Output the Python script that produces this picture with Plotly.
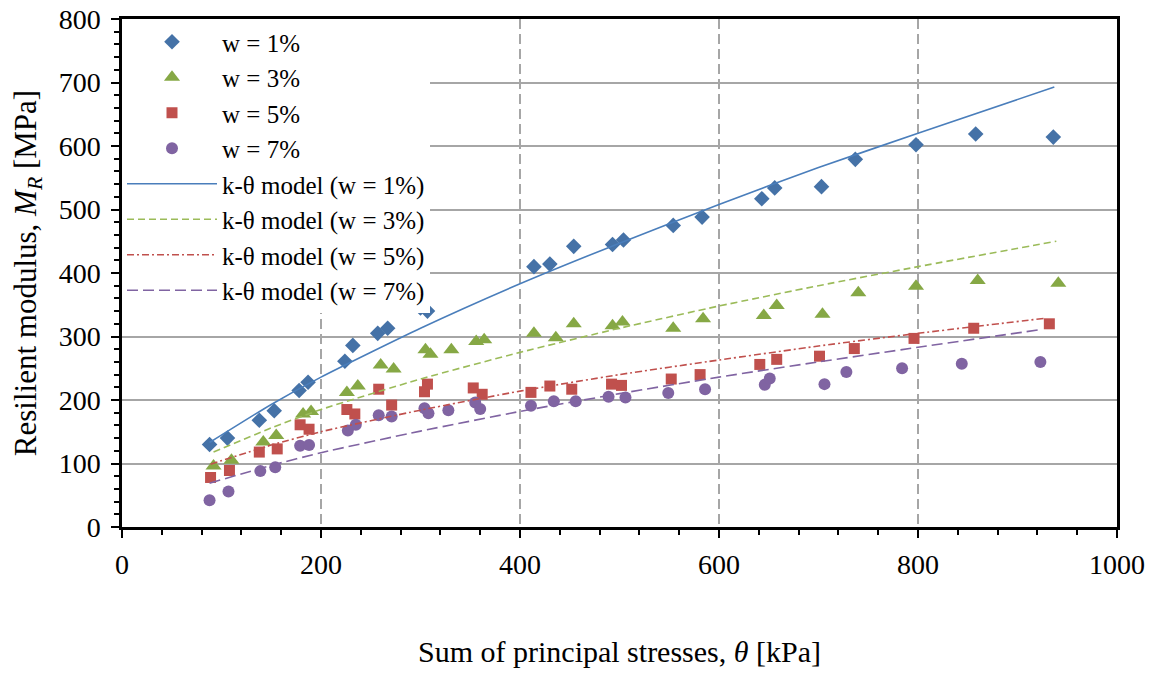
import plotly.graph_objects as go

theta_w1 = [88, 106, 138, 153, 178, 187, 224, 232, 257, 267, 300, 307, 414, 430, 454, 493, 504, 554, 583, 643, 656, 703, 737, 798, 858, 936]
mr_w1 = [130, 140, 168, 183, 215, 228, 261, 286, 305, 313, 345, 340, 410, 414, 442, 445, 452, 475, 488, 517, 534, 536, 579, 602, 619, 614]

theta_w3 = [92, 110, 142, 155, 182, 190, 226, 237, 260, 273, 305, 310, 331, 356, 364, 414, 436, 454, 493, 503, 554, 584, 645, 658, 704, 740, 798, 860, 941]
mr_w3 = [96, 105, 134, 144, 178, 182, 212, 222, 255, 249, 279, 272, 279, 292, 295, 305, 298, 320, 317, 323, 313, 328, 333, 349, 335, 369, 379, 388, 384]

theta_w5 = [89, 108, 138, 156, 179, 188, 226, 234, 258, 271, 304, 307, 353, 362, 411, 430, 452, 492, 502, 552, 581, 641, 658, 701, 736, 796, 856, 932]
mr_w5 = [78, 89, 118, 123, 161, 154, 185, 178, 217, 192, 213, 225, 219, 209, 212, 222, 217, 225, 223, 233, 240, 256, 264, 269, 281, 297, 313, 320]

theta_w7 = [88, 107, 139, 154, 179, 188, 227, 235, 258, 271, 304, 308, 328, 355, 360, 411, 434, 456, 489, 506, 549, 586, 646, 651, 706, 728, 784, 844, 923]
mr_w7 = [42, 56, 88, 94, 128, 129, 152, 161, 176, 174, 187, 179, 184, 196, 186, 191, 198, 198, 205, 204, 211, 217, 224, 234, 225, 244, 250, 257, 260]

# ---- k-theta model curves ----
fit_theta_w1 = [88, 150, 200, 300, 400, 500, 600, 700, 800, 937]
fit_mr_w1 = [133, 193, 236, 313, 383, 447, 508, 566, 620, 693]
fit_theta_w3 = [92, 150, 200, 300, 400, 500, 600, 700, 800, 939]
fit_mr_w3 = [118, 156, 185, 233, 275, 313, 348, 380, 410, 450]
fit_theta_w5 = [89, 150, 200, 300, 400, 500, 600, 700, 800, 929]
fit_mr_w5 = [99, 129, 150, 184, 214, 240, 263, 285, 305, 329]
fit_theta_w7 = [88, 150, 200, 300, 400, 500, 600, 700, 800, 924]
fit_mr_w7 = [69, 97, 117, 151, 182, 210, 236, 260, 283, 311]

x_ticks = [0, 200, 400, 600, 800, 1000]
y_ticks = [0, 100, 200, 300, 400, 500, 600, 700, 800]

FONT = "Liberation Serif, Times New Roman, serif"

fig = go.Figure()

marker_series = [
    ("w = 1%", theta_w1, mr_w1, "diamond", 12, "#4572A7"),
    ("w = 3%", theta_w3, mr_w3, "triangle-up", 14, "#86A845"),
    ("w = 5%", theta_w5, mr_w5, "square", 11, "#C0504D"),
    ("w = 7%", theta_w7, mr_w7, "circle", 12, "#8064A2"),
]
for name, xs, ys, sym, sz, col in marker_series:
    fig.add_trace(go.Scatter(x=xs, y=ys, mode="markers", name=name,
                             marker=dict(symbol=sym, size=sz, color=col, line=dict(width=0))))

line_series = [
    ("k-θ model (w = 1%)", fit_theta_w1, fit_mr_w1, "#4A7EBB", "solid"),
    ("k-θ model (w = 3%)", fit_theta_w3, fit_mr_w3, "#9BBB59", "7px,4px"),
    ("k-θ model (w = 5%)", fit_theta_w5, fit_mr_w5, "#C0504D", "7px,3px,2px,3px"),
    ("k-θ model (w = 7%)", fit_theta_w7, fit_mr_w7, "#8064A2", "11px,5px"),
]
for name, xs, ys, col, dash in line_series:
    fig.add_trace(go.Scatter(x=xs, y=ys, mode="lines", name=name,
                             line=dict(color=col, width=1.6, dash=dash, shape="spline", smoothing=0.6)))

fig.update_layout(
    width=1155, height=675,
    margin=dict(l=114, r=46, t=11, b=156, autoexpand=False),
    paper_bgcolor="white", plot_bgcolor="white",
    font=dict(family=FONT, size=28, color="black"),
    showlegend=True,
    legend=dict(x=0.0, y=1.0, xanchor="left", yanchor="top",
                bgcolor="white", borderwidth=0,
                font=dict(family=FONT, size=25, color="black"),
                itemwidth=90, tracegroupgap=0),
)

fig.update_xaxes(
    range=[0, 1000], tickvals=x_ticks, ticktext=[str(v) for v in x_ticks],
    showline=True, linecolor="black", linewidth=2.5, mirror=True,
    ticks="outside", ticklen=8, tickwidth=2, tickcolor="black",
    ticklabelstandoff=3, automargin=False, ticklabeloverflow="allow",
    tickfont=dict(family=FONT, size=28),
    showgrid=True, gridcolor="#A6A6A6", gridwidth=1.5, griddash="10px,5px",
    minor=dict(dtick=40, ticks="outside", ticklen=5, tickwidth=1.5, tickcolor="black", showgrid=False),
    zeroline=False,
    title=dict(text="Sum of principal stresses, <i>θ</i> [kPa]", standoff=62,
               font=dict(family=FONT, size=30)),
)
fig.update_yaxes(
    range=[0, 800], tickvals=y_ticks, ticktext=[str(v) for v in y_ticks],
    showline=True, linecolor="black", linewidth=2.5, mirror=True,
    ticks="outside", ticklen=8, tickwidth=2, tickcolor="black",
    ticklabelstandoff=5, automargin=False, ticklabeloverflow="allow",
    tickfont=dict(family=FONT, size=28),
    showgrid=True, gridcolor="#A6A6A6", gridwidth=1.5,
    minor=dict(dtick=20, ticks="outside", ticklen=5, tickwidth=1.5, tickcolor="black", showgrid=False),
    zeroline=False,
    title=dict(text="Resilient modulus, <i>M</i><sub><i>R</i></sub> [MPa]", standoff=18,
               font=dict(family=FONT, size=31)),
)

fig.write_html("out.html")
